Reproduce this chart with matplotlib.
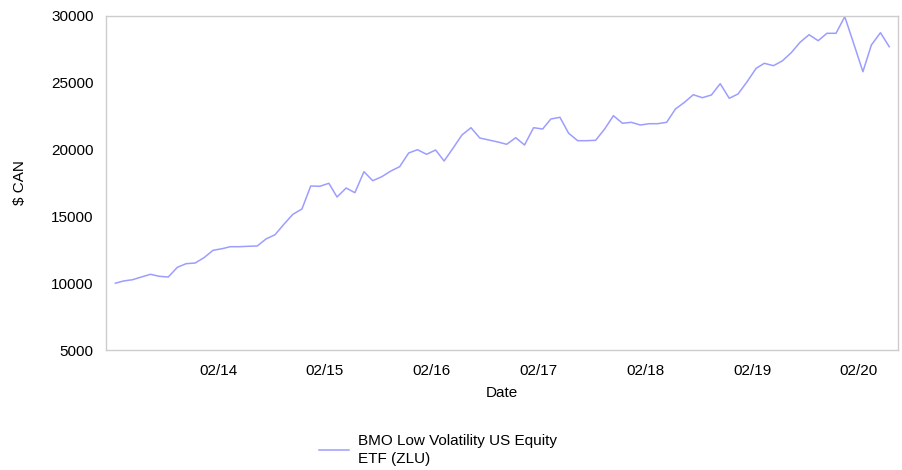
import pandas as pd
import matplotlib
matplotlib.use("Agg")
import matplotlib.pyplot as plt
import matplotlib.dates as mdates

plt.rcParams['font.family'] = ['Liberation Sans', 'DejaVu Sans']

# Valeurs mensuelles (fév. 2013 -> mai 2020)
dates = pd.date_range("2013-02-01", periods=88, freq="MS") + pd.Timedelta(days=14)
valeurs = [
    10000, 10165, 10262, 10464, 10666, 10516, 10464, 11190, 11460, 11512,
    11909, 12463, 12582, 12732, 12732, 12762, 12784, 13308, 13630, 14431,
    15157, 15554, 17275, 17253, 17478, 16452, 17126, 16774, 18346, 17672,
    17972, 18398, 18720, 19746, 19993, 19648, 19970, 19147, 20120, 21093,
    21639, 20868, 20719, 20569, 20397, 20891, 20344, 21639, 21542, 22290,
    22418, 21220, 20666, 20666, 20696, 21542, 22537, 21969, 22043, 21841,
    21939, 21939, 22043, 23039, 23540, 24109, 23885, 24087, 24933, 23840,
    24162, 25082, 26085, 26460, 26280, 26632, 27253, 28031, 28600, 28151,
    28705, 28705, 29948, 27904, 25831, 27829, 28750, 27702,
]
annees_ticks = list(range(2014, 2021))
nom_serie = "BMO Low Volatility US Equity\nETF (ZLU)"

fig = plt.figure(figsize=(9.02, 4.70), dpi=100)
ax = fig.add_axes([106 / 902, 1 - 350 / 470, 792 / 902, 334 / 470])

ax.plot(dates, valeurs, color='#9d9dff', linewidth=1.1, label=nom_serie)

ax.set_ylim(5000, 30000)
ax.set_yticks(range(5000, 30001, 5000))
ax.set_xlim(pd.Timestamp("2013-01-14"), pd.Timestamp("2020-06-14"))
ax.set_xticks([pd.Timestamp(year=a, month=2, day=1) for a in annees_ticks])
ax.xaxis.set_major_formatter(mdates.DateFormatter("%m/%y"))

for s in ax.spines.values():
    s.set_color('#cccccc')
    s.set_linewidth(1.0)
ax.tick_params(length=0, labelsize=11, colors='#000000')
ax.tick_params(axis='x', pad=10)
ax.tick_params(axis='y', pad=9)

ax.set_xlabel("Date", fontsize=11, labelpad=6)
ax.set_ylabel("$ CAN", fontsize=11, labelpad=17)

leg = fig.legend(loc='center', bbox_to_anchor=(438 / 902, 1 - 450 / 470), frameon=False,
                 fontsize=11, handlelength=2.0, handletextpad=0.6)
for t in leg.get_texts():
    t.set_linespacing(1.45)

fig.savefig("out.png", dpi=100)
